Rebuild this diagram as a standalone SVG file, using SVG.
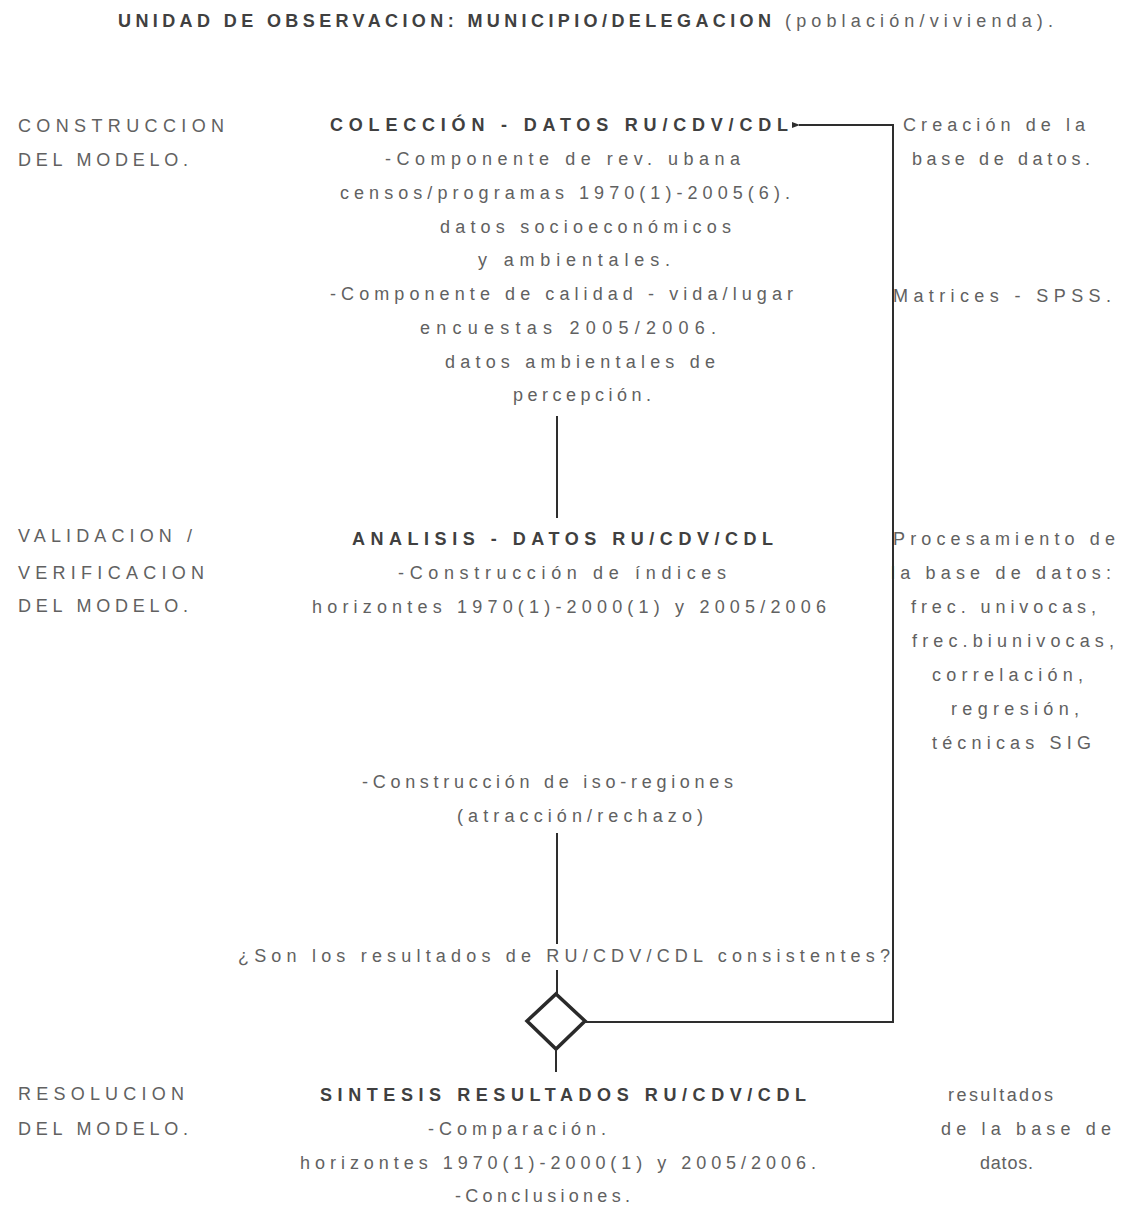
<svg xmlns="http://www.w3.org/2000/svg" width="1124" height="1209" viewBox="0 0 1124 1209">
<style>
text{font-family:"Liberation Sans",Arial,sans-serif;font-size:18px;fill:#616161;letter-spacing:2px}
.b{font-weight:bold;fill:#404040}
.ln{stroke:#2e2e2e;stroke-width:2;fill:none}
</style>
<defs>
<marker id="ah" markerWidth="8" markerHeight="6" refX="1" refY="3" orient="auto-start-reverse" markerUnits="userSpaceOnUse">
<path d="M0,3 L8,0 L8,6 Z" fill="#2e2e2e"/>
</marker>
</defs>
<rect width="1124" height="1209" fill="#ffffff"/>
<g id="title">
<text x="118" y="27" class="b" textLength="655" lengthAdjust="spacing">UNIDAD DE OBSERVACION: MUNICIPIO/DELEGACION</text>
<text x="785" y="27" textLength="270" lengthAdjust="spacing">(población/vivienda).</text>
</g>
<g id="stage-labels">
<text x="18" y="132" textLength="208" lengthAdjust="spacing">CONSTRUCCION</text>
<text x="18" y="166" textLength="172" lengthAdjust="spacing">DEL MODELO.</text>
<text x="18" y="542" textLength="176" lengthAdjust="spacing">VALIDACION /</text>
<text x="18" y="579" textLength="188" lengthAdjust="spacing">VERIFICACION</text>
<text x="18" y="612" textLength="172" lengthAdjust="spacing">DEL MODELO.</text>
<text x="18" y="1100" textLength="168" lengthAdjust="spacing">RESOLUCION</text>
<text x="18" y="1135" textLength="172" lengthAdjust="spacing">DEL MODELO.</text>
</g>
<g id="node-coleccion">
<text x="330" y="131" class="b" textLength="460" lengthAdjust="spacing">COLECCIÓN - DATOS RU/CDV/CDL</text>
<text x="385" y="165" textLength="357" lengthAdjust="spacing">-Componente de rev. ubana</text>
<text x="340" y="199" textLength="452" lengthAdjust="spacing">censos/programas 1970(1)-2005(6).</text>
<text x="440" y="233" textLength="293" lengthAdjust="spacing">datos socioeconómicos</text>
<text x="478" y="266" textLength="194" lengthAdjust="spacing">y ambientales.</text>
<text x="330" y="300" textLength="465" lengthAdjust="spacing">-Componente de calidad - vida/lugar</text>
<text x="420" y="334" textLength="298" lengthAdjust="spacing">encuestas 2005/2006.</text>
<text x="445" y="368" textLength="272" lengthAdjust="spacing">datos ambientales de</text>
<text x="513" y="401" textLength="140" lengthAdjust="spacing">percepción.</text>
</g>
<g id="node-analisis">
<text x="352" y="545" class="b" textLength="423" lengthAdjust="spacing">ANALISIS - DATOS RU/CDV/CDL</text>
<text x="398" y="579" textLength="330" lengthAdjust="spacing">-Construcción de índices</text>
<text x="312" y="613" textLength="516" lengthAdjust="spacing">horizontes 1970(1)-2000(1) y 2005/2006</text>
</g>
<g id="node-isoregiones">
<text x="362" y="788" textLength="373" lengthAdjust="spacing">-Construcción de iso-regiones</text>
<text x="457" y="822" textLength="248" lengthAdjust="spacing">(atracción/rechazo)</text>
</g>
<g id="node-decision">
<text x="238" y="962" textLength="654" lengthAdjust="spacing">¿Son los resultados de RU/CDV/CDL consistentes?</text>
<path d="M556,994 L585,1021 L556,1049 L527,1021 Z" fill="#ffffff" stroke="#2a2a2a" stroke-width="3.5" stroke-linejoin="miter"/>
</g>
<g id="node-sintesis">
<text x="320" y="1101" class="b" textLength="488" lengthAdjust="spacing">SINTESIS RESULTADOS RU/CDV/CDL</text>
<text x="428" y="1135" textLength="180" lengthAdjust="spacing">-Comparación.</text>
<text x="300" y="1169" textLength="518" lengthAdjust="spacing">horizontes 1970(1)-2000(1) y 2005/2006.</text>
<text x="455" y="1202" textLength="177" lengthAdjust="spacing">-Conclusiones.</text>
</g>
<g id="notes-right">
<text x="903" y="131" textLength="184" lengthAdjust="spacing">Creación de la</text>
<text x="912" y="165" textLength="180" lengthAdjust="spacing">base de datos.</text>
<text x="893" y="302" textLength="220" lengthAdjust="spacing">Matrices - SPSS.</text>
<text x="893" y="545" textLength="224" lengthAdjust="spacing">Procesamiento de</text>
<text x="891" y="579" textLength="222" lengthAdjust="spacing">la base de datos:</text>
<text x="911" y="613" textLength="187" lengthAdjust="spacing">frec. univocas,</text>
<text x="912" y="647" textLength="204" lengthAdjust="spacing">frec.biunivocas,</text>
<text x="932" y="681" textLength="153" lengthAdjust="spacing">correlación,</text>
<text x="951" y="715" textLength="130" lengthAdjust="spacing">regresión,</text>
<text x="932" y="749" textLength="161" lengthAdjust="spacing">técnicas SIG</text>
<text x="948" y="1101" textLength="107" lengthAdjust="spacing">resultados</text>
<text x="941" y="1135" textLength="172" lengthAdjust="spacing">de la base de</text>
<text x="980" y="1169" textLength="55" lengthAdjust="spacing">datos.</text>
</g>
<g id="connectors">
<line class="ln" x1="557" y1="416" x2="557" y2="518"/>
<line class="ln" x1="557" y1="833" x2="557" y2="944"/>
<line class="ln" x1="557" y1="970" x2="557" y2="994"/>
<line class="ln" x1="556" y1="1049" x2="556" y2="1072"/>
<path class="ln" d="M585,1022 L893,1022 L893,125 L799,125" marker-end="url(#ah)"/>
</g>
</svg>
